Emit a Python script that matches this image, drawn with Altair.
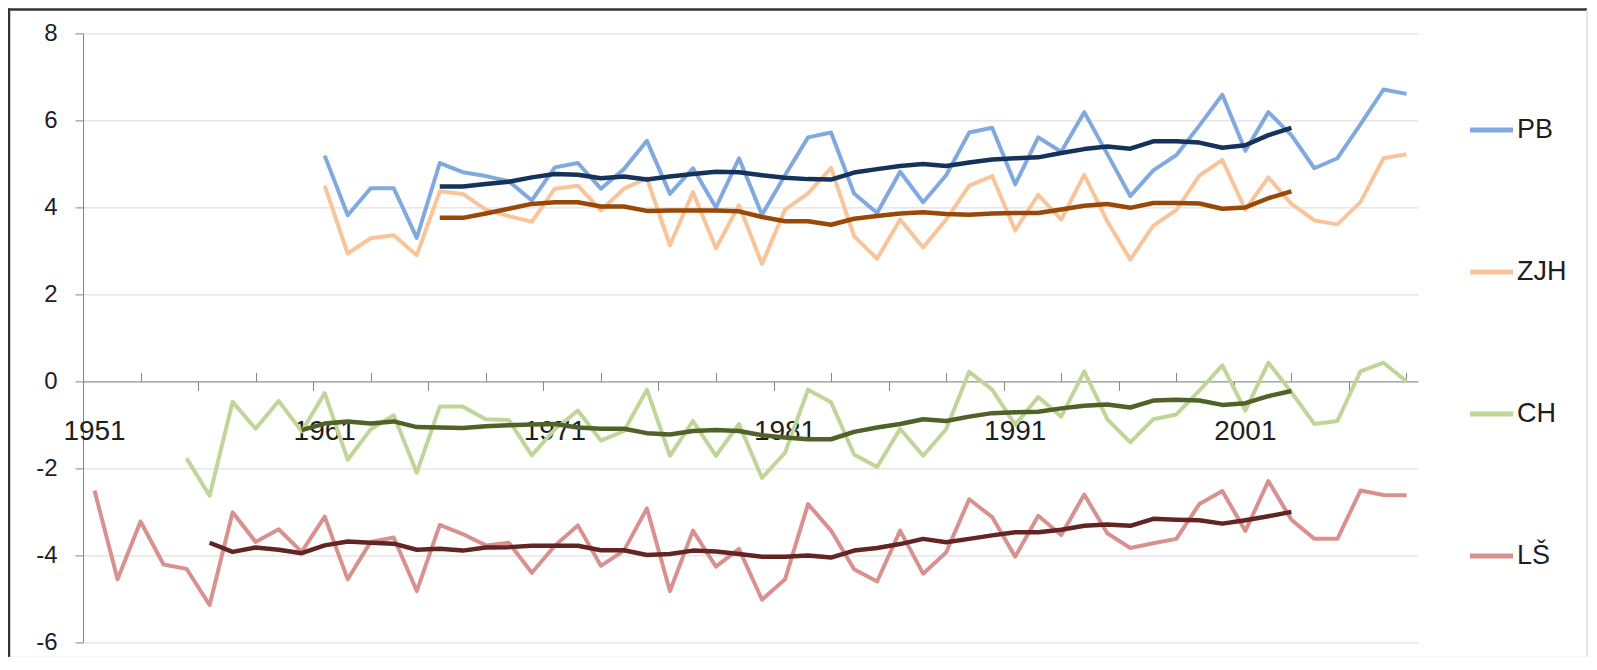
import altair as alt
import pandas as pd

# ---------------- data ----------------
series_names = ["PB", "ZJH", "CH", "LŠ"]

pb_start = 1961
pb = [5.19, 3.82, 4.44, 4.44, 3.30, 5.02, 4.81, 4.72, 4.60, 4.16,
      4.92, 5.02, 4.43, 4.88, 5.53, 4.31, 4.90, 4.00, 5.13, 3.83,
      4.74, 5.61, 5.72, 4.32, 3.87, 4.82, 4.12, 4.74, 5.72, 5.83,
      4.53, 5.61, 5.28, 6.19, 5.23, 4.26, 4.85, 5.20, 5.88, 6.59,
      5.30, 6.19, 5.66, 4.90, 5.13, 5.91, 6.71, 6.61]

zjh_start = 1961
zjh = [4.50, 2.94, 3.29, 3.36, 2.90, 4.37, 4.31, 3.95, 3.80, 3.67,
       4.43, 4.50, 3.93, 4.43, 4.67, 3.13, 4.35, 3.06, 4.05, 2.70,
       3.95, 4.32, 4.91, 3.34, 2.82, 3.72, 3.08, 3.72, 4.50, 4.72,
       3.47, 4.29, 3.72, 4.75, 3.68, 2.80, 3.58, 3.94, 4.73, 5.09,
       3.95, 4.69, 4.08, 3.70, 3.61, 4.12, 5.13, 5.22]

ch_start = 1955
ch = [-1.77, -2.63, -0.47, -1.09, -0.45, -1.15, -0.27, -1.80, -1.10, -0.78,
      -2.10, -0.58, -0.58, -0.87, -0.89, -1.70, -1.10, -0.67, -1.36, -1.14,
      -0.19, -1.71, -0.91, -1.71, -0.98, -2.22, -1.64, -0.19, -0.48, -1.68,
      -1.97, -1.09, -1.71, -1.10, 0.22, -0.19, -1.00, -0.36, -0.81, 0.23,
      -0.87, -1.40, -0.87, -0.76, -0.21, 0.37, -0.67, 0.43, -0.25, -0.98,
      -0.91, 0.23, 0.43, 0.00]

ls_start = 1951
ls = [-2.51, -4.55, -3.22, -4.21, -4.31, -5.14, -3.01, -3.69, -3.40, -3.92,
      -3.11, -4.55, -3.69, -3.59, -4.82, -3.30, -3.51, -3.77, -3.71, -4.40,
      -3.78, -3.31, -4.24, -3.89, -2.92, -4.82, -3.43, -4.26, -3.85, -5.02,
      -4.55, -2.82, -3.43, -4.32, -4.60, -3.43, -4.42, -3.93, -2.71, -3.12,
      -4.03, -3.09, -3.53, -2.60, -3.49, -3.83, -3.72, -3.62, -2.82, -2.52,
      -3.44, -2.29, -3.18, -3.62, -3.62, -2.51, -2.61, -2.62]

# moving-average curves
pb_ma_start = 1966
pb_ma = [4.48, 4.48, 4.54, 4.59, 4.69, 4.77, 4.75, 4.67, 4.71, 4.64,
         4.71, 4.77, 4.82, 4.81, 4.74, 4.68, 4.65, 4.64, 4.80, 4.88,
         4.95, 5.00, 4.95, 5.03, 5.10, 5.13, 5.15, 5.25, 5.34, 5.40,
         5.35, 5.52, 5.52, 5.49, 5.37, 5.43, 5.66, 5.83]

zjh_ma_start = 1966
zjh_ma = [3.76, 3.76, 3.86, 3.97, 4.08, 4.12, 4.12, 4.02, 4.02, 3.92,
          3.93, 3.93, 3.93, 3.91, 3.78, 3.68, 3.68, 3.60, 3.74, 3.80,
          3.86, 3.89, 3.85, 3.83, 3.86, 3.87, 3.87, 3.95, 4.04, 4.08,
          3.99, 4.10, 4.10, 4.09, 3.97, 4.00, 4.21, 4.37]

ch_ma_start = 1960
ch_ma = [-1.12, -0.97, -0.92, -0.97, -0.92, -1.05, -1.06, -1.07, -1.03, -1.01,
         -0.99, -0.98, -1.06, -1.09, -1.09, -1.19, -1.22, -1.14, -1.12, -1.14,
         -1.24, -1.29, -1.33, -1.33, -1.16, -1.06, -0.98, -0.87, -0.91, -0.81,
         -0.73, -0.71, -0.70, -0.62, -0.56, -0.53, -0.60, -0.44, -0.42, -0.44,
         -0.54, -0.50, -0.34, -0.22]

ls_ma_start = 1956
ls_ma = [-3.71, -3.92, -3.82, -3.87, -3.95, -3.77, -3.68, -3.71, -3.73, -3.87,
         -3.85, -3.89, -3.82, -3.81, -3.78, -3.78, -3.78, -3.88, -3.88, -3.99,
         -3.97, -3.89, -3.91, -3.97, -4.03, -4.03, -4.00, -4.05, -3.89, -3.83,
         -3.74, -3.62, -3.70, -3.62, -3.54, -3.47, -3.47, -3.41, -3.32, -3.29,
         -3.32, -3.16, -3.18, -3.19, -3.27, -3.19, -3.10, -3.00]

x_label_years = [1951, 1961, 1971, 1981, 1991, 2001]
x_up_ticks = [1953, 1958, 1963, 1968, 1973, 1978, 1983, 1988, 1993, 1998, 2003, 2008]
x_down_ticks = [1955.5, 1960.5, 1965.5, 1970.5, 1975.5, 1980.5, 1985.5,
                1990.5, 1995.5, 2000.5, 2005.5]
y_ticks = [-6, -4, -2, 0, 2, 4, 6, 8]

raw_colors = ["#80AADF", "#FAC49A", "#C0D598", "#D9918F"]
ma_colors = ["#14325A", "#984807", "#4F6228", "#632523"]


def long(name, start, vals):
    return pd.DataFrame({"year": list(range(start, start + len(vals))),
                         "value": vals, "series": name})


raw_df = pd.concat([long("PB", pb_start, pb), long("ZJH", zjh_start, zjh),
                    long("CH", ch_start, ch), long("LŠ", ls_start, ls)])
ma_df = pd.concat([long("PB", pb_ma_start, pb_ma), long("ZJH", zjh_ma_start, zjh_ma),
                   long("CH", ch_ma_start, ch_ma), long("LŠ", ls_ma_start, ls_ma)])
label_df = pd.DataFrame({"year": x_label_years, "value": [0] * len(x_label_years),
                         "lab": [str(y) for y in x_label_years]})

W, H = 1335, 609
Y_MIN, Y_MAX = -6, 8
zero_px = H * Y_MAX / (Y_MAX - Y_MIN)

FONT = "Liberation Sans"
TXT = "#1E1E1E"
AXC = "#868686"

xscale = alt.Scale(domain=[1950.5, 2008.5], nice=False, zero=False)
yscale = alt.Scale(domain=[Y_MIN, Y_MAX], nice=False, zero=False)

y_axis = alt.Axis(
    values=y_ticks, title=None, grid=True, gridColor="#D9D9D9", gridWidth=1,
    tickSize=8, tickColor=AXC, domainColor=AXC, labelFont=FONT,
    labelFontSize=24, labelColor=TXT, labelPadding=18, orient="left",
    labelExpr="'' + datum.value")

labels = alt.Chart(label_df).mark_text(
    font=FONT, fontSize=28, color=TXT, baseline="middle", align="center", dy=51
).encode(
    x=alt.X("year:Q", scale=xscale, axis=None),
    y=alt.Y("value:Q", scale=yscale, axis=y_axis),
    text="lab:N",
)

raw = alt.Chart(raw_df).mark_line(strokeWidth=4, strokeJoin="round").encode(
    x=alt.X("year:Q", scale=xscale, axis=alt.Axis(
        orient="bottom", values=x_down_ticks, labels=False, title=None, grid=False,
        ticks=True, tickSize=9, tickColor=AXC, domainColor=AXC, domainWidth=1,
        offset=-(H - zero_px))),
    y=alt.Y("value:Q", scale=yscale, axis=y_axis),
    color=alt.Color("series:N", sort=series_names,
                    scale=alt.Scale(domain=series_names, range=raw_colors),
                    legend=alt.Legend(
                        orient="none", legendX=1384, legendY=72, direction="vertical",
                        title=None, symbolType="stroke", symbolSize=1850,
                        symbolStrokeWidth=5, labelFont=FONT, labelFontSize=27,
                        labelColor=TXT, rowPadding=104, labelOffset=1, padding=0)),
    detail="series:N",
)

ma = alt.Chart(ma_df).mark_line(strokeWidth=4.5, strokeJoin="round").encode(
    x=alt.X("year:Q", scale=xscale, axis=alt.Axis(
        orient="top", values=x_up_ticks, labels=False, title=None, grid=False,
        ticks=True, tickSize=9, tickColor=AXC, domain=False,
        offset=-zero_px)),
    y=alt.Y("value:Q", scale=yscale, axis=y_axis),
    stroke=alt.Stroke("series:N", scale=alt.Scale(domain=series_names, range=ma_colors),
                      legend=None),
    detail="series:N",
)

one = pd.DataFrame({"k": [0]})
frame_left = alt.Chart(one).mark_rule(color="#333333", strokeWidth=2.5).encode(
    x=alt.value(-74), y=alt.value(-25), y2=alt.value(624))
frame_top = alt.Chart(one).mark_rule(color="#333333", strokeWidth=2.5).encode(
    y=alt.value(-24), x=alt.value(-75), x2=alt.value(1504))
frame_right = alt.Chart(one).mark_rule(color="#DDDDDD", strokeWidth=1.5).encode(
    x=alt.value(1504), y=alt.value(-24), y2=alt.value(624))
frame_bottom = alt.Chart(one).mark_rule(color="#DDDDDD", strokeWidth=1.5).encode(
    y=alt.value(624), x=alt.value(-74), x2=alt.value(1504))

chart = alt.layer(
    labels, raw, ma, frame_left, frame_top, frame_right, frame_bottom
).resolve_axis(x="independent", y="shared").resolve_scale(color="independent").properties(
    width=W, height=H,
    background="white",
    autosize=alt.AutoSizeParams(type="none"),
    padding={"left": 75, "top": 25.4, "right": 171, "bottom": 15},
).configure_view(strokeWidth=0, stroke=None)

chart.save("out.html", embed_options={"renderer": "svg", "actions": False})
